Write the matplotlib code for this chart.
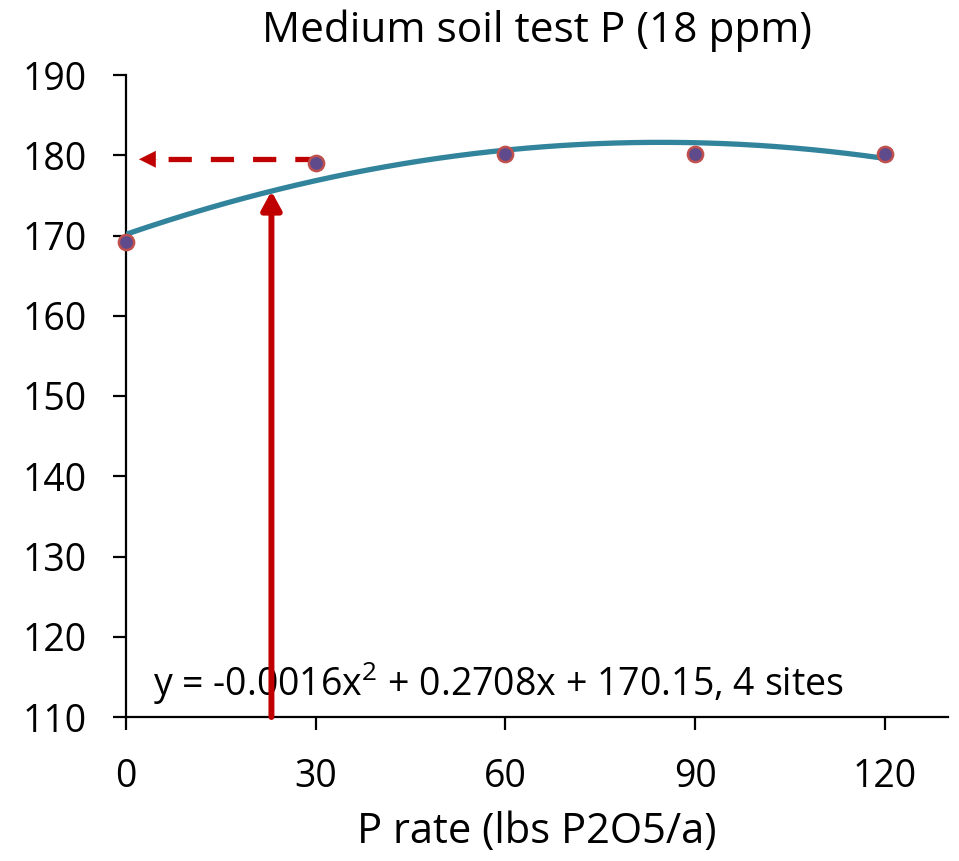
import numpy as np
import matplotlib
matplotlib.use("Agg")
import matplotlib.pyplot as plt

# Data
p_rate = [0, 30, 60, 90, 120]
yield_vals = [169.2, 179.0, 180.2, 180.2, 180.2]
trend_coefs = [-0.0016, 0.2708, 170.15]
x_ticks = [0, 30, 60, 90, 120]
y_ticks = [110, 120, 130, 140, 150, 160, 170, 180, 190]
opt_rate = 23
read_yield = 179.5
title = "Medium soil test P (18 ppm)"
xlabel = "P rate (lbs P2O5/a)"
eq_label = r"y = -0.0016x$^{2}$ + 0.2708x + 170.15, 4 sites"

FONT = 'Open Sans'
plt.rcParams['font.family'] = [FONT, 'DejaVu Sans']
plt.rcParams['mathtext.fontset'] = 'custom'
plt.rcParams['mathtext.rm'] = FONT
plt.rcParams['mathtext.it'] = FONT

fig = plt.figure(figsize=(9.59, 8.61), dpi=100)
ax = fig.add_axes([126/959, 1-717/861, (948-126)/959, (717-75)/861])

xs = np.linspace(0, 120, 300)
ax.plot(xs, np.polyval(trend_coefs, xs), color='#31849B', lw=3.8, zorder=3,
        solid_capstyle='butt')
ax.scatter(p_rate, yield_vals, s=120, color='#5F4B8B', edgecolors='#C0504D',
           linewidths=1.8, zorder=4, clip_on=False)

red = '#C00000'
y_curve = np.polyval(trend_coefs, opt_rate)
ax.annotate('', xy=(opt_rate, y_curve), xytext=(opt_rate, 110),
            arrowprops=dict(arrowstyle='-|>,head_length=0.55,head_width=0.3',
                            mutation_scale=20, color=red, lw=4.3,
                            shrinkA=0, shrinkB=0),
            zorder=6)
ax.plot([30.3, 4.9], [read_yield, read_yield], color=red, lw=3.8,
        dashes=(4.4, 3.6), zorder=3)
ax.annotate('', xy=(2.05, read_yield), xytext=(5.0, read_yield),
            arrowprops=dict(arrowstyle='-|>,head_length=0.6,head_width=0.3',
                            mutation_scale=20, color=red, lw=0.1,
                            shrinkA=0, shrinkB=0),
            zorder=3)

ax.text(4.3, 112.6, eq_label, fontsize=27, va='baseline', ha='left', zorder=5)

ax.set_xlim(0, 130)
ax.set_ylim(110, 190)
ax.set_xticks(x_ticks)
ax.set_yticks(y_ticks)
ax.tick_params(labelsize=27, length=9.5, width=1.6, direction='out')
ax.tick_params(axis='y', pad=19)
ax.tick_params(axis='x', pad=20)
for s in ['top', 'right']:
    ax.spines[s].set_visible(False)
for s in ['left', 'bottom']:
    ax.spines[s].set_linewidth(1.6)

ax.set_title(title, fontsize=30.5, pad=24)
ax.set_xlabel(xlabel, fontsize=30, labelpad=11)

fig.savefig('out.png', dpi=100)
